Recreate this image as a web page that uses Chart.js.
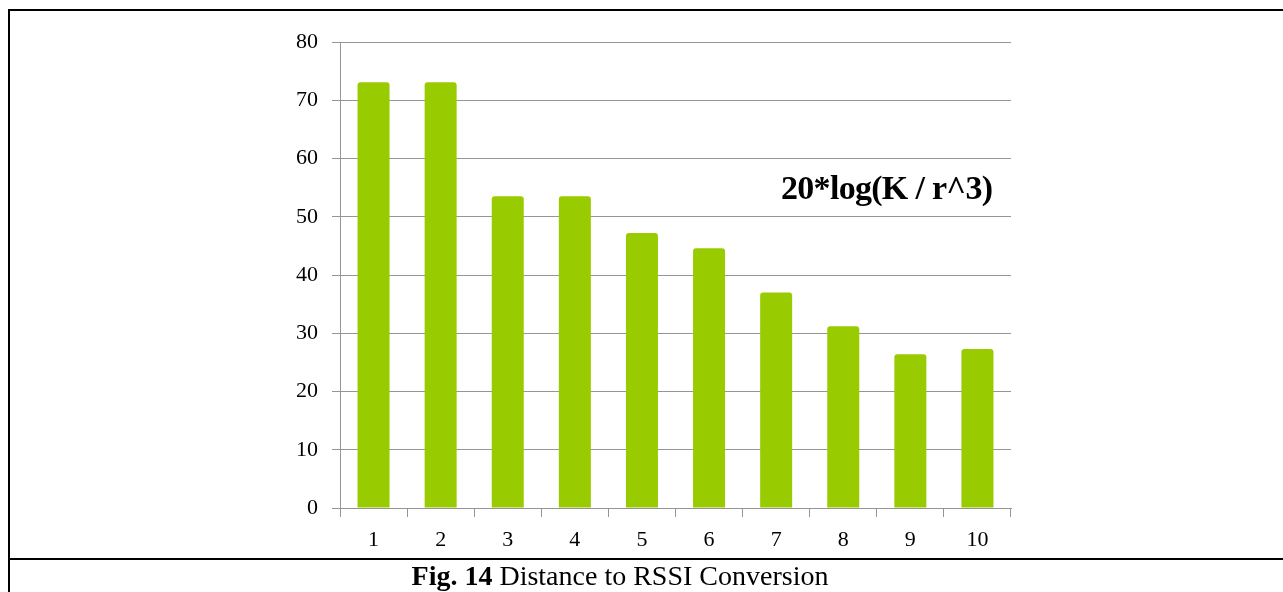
<!DOCTYPE html>
<html lang="en">
<head>
    <meta charset="UTF-8">
    <title>Distance to RSSI Conversion</title>
    <script src="https://cdn.jsdelivr.net/npm/chart.js"></script>
    <style>
        html, body {
            margin: 0;
            padding: 0;
            background: #ffffff;
        }
        .page {
            position: relative;
            width: 1283px;
            height: 592px;
            overflow: hidden;
        }
        /* table-like frame around the figure */
        .frame-top {
            position: absolute;
            left: 8px; top: 9px;
            width: 1275px; height: 2px;
            background: #000;
        }
        .frame-left {
            position: absolute;
            left: 8px; top: 9px;
            width: 2px; height: 583px;
            background: #000;
        }
        .frame-sep {
            position: absolute;
            left: 8px; top: 558px;
            width: 1275px; height: 2px;
            background: #000;
        }
        .chart-box {
            position: absolute;
            left: 0; top: 0;
            width: 1283px; height: 592px;
        }
        .formula {
            position: absolute;
            left: 781px; top: 168px;
            font-family: "Liberation Serif", "Times New Roman", serif;
            font-weight: bold;
            font-size: 34px;
            letter-spacing: -0.7px;
            line-height: 40px;
            color: #000;
            white-space: pre;
        }
        .caption {
            position: absolute;
            left: 320px; width: 600px;
            top: 560px;
            text-align: center;
            font-family: "Liberation Serif", "Times New Roman", serif;
            font-size: 28px;
            line-height: 32px;
            color: #000;
        }
    </style>
</head>
<body>
    <div class="page">
        <div class="chart-box">
            <canvas id="rssiChart"></canvas>
        </div>
        <div class="formula">20*log(K / r^3)</div>
        <div class="frame-top"></div>
        <div class="frame-left"></div>
        <div class="frame-sep"></div>
        <div class="caption"><b>Fig. 14</b> Distance to RSSI Conversion</div>
    </div>

    <script>
        // distance (categories) and converted values
        const distances = ['1', '2', '3', '4', '5', '6', '7', '8', '9', '10'];
        const rssiValues = [73.1, 73.1, 53.5, 53.5, 47.2, 44.6, 37.0, 31.2, 26.4, 27.3];
        const yTicks = [0, 10, 20, 30, 40, 50, 60, 70, 80];

        const axisGray = '#959595';
        const tickFont = { family: '"Liberation Serif", "Times New Roman", serif', size: 22 };

        const config = {
            type: 'bar',
            data: {
                labels: distances,
                datasets: [{
                    data: rssiValues,
                    backgroundColor: '#99cc00',
                    borderRadius: { topLeft: 3, topRight: 3, bottomLeft: 0, bottomRight: 0 },
                    borderSkipped: 'start',
                    categoryPercentage: 1.0,
                    barPercentage: 0.477
                }]
            },
            options: {
                responsive: true,
                maintainAspectRatio: false,
                animation: false,
                layout: {
                    padding: { left: 0, right: 272, top: 42, bottom: 0 }
                },
                plugins: {
                    legend: { display: false },
                    tooltip: { enabled: false }
                },
                scales: {
                    x: {
                        offset: true,
                        grid: {
                            offset: true,
                            drawOnChartArea: false,
                            drawTicks: true,
                            tickLength: 9,
                            color: axisGray,
                            lineWidth: 1
                        },
                        border: { color: axisGray, width: 1 },
                        ticks: {
                            color: '#000',
                            font: tickFont,
                            padding: 10,
                            maxRotation: 0
                        },
                        afterFit: (scale) => { scale.height = 84; }
                    },
                    y: {
                        min: 0,
                        max: 80,
                        afterBuildTicks: (scale) => {
                            scale.ticks = yTicks.map(v => ({ value: v }));
                        },
                        grid: {
                            drawTicks: true,
                            tickLength: 8,
                            color: axisGray,
                            lineWidth: 1
                        },
                        border: { color: axisGray, width: 1 },
                        ticks: {
                            color: '#000',
                            font: tickFont,
                            padding: 14
                        },
                        afterFit: (scale) => { scale.width = 340; }
                    }
                }
            }
        };

        new Chart(document.getElementById('rssiChart'), config);
    </script>
</body>
</html>
